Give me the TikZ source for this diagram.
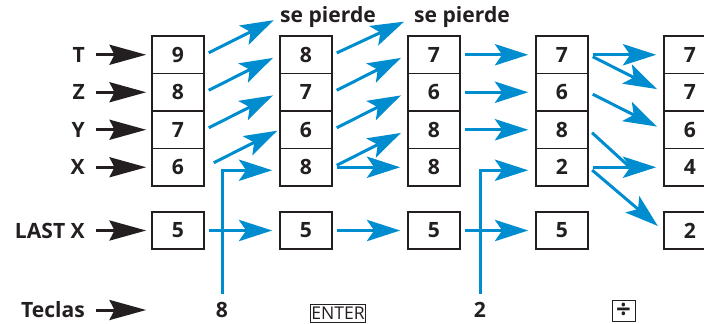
\documentclass[tikz,border=0pt]{standalone}
\usepackage{fontspec}
\setmainfont{Open Sans}
\usetikzlibrary{arrows.meta}
\definecolor{hpblue}{RGB}{0,141,207}
\definecolor{hpblack}{RGB}{35,31,32}
\tikzset{
  regbox/.style={draw=hpblack, line width=1.4pt, minimum width=1.56cm, minimum height=1.125cm,
    inner sep=0pt, text=hpblack, font=\fontsize{18}{20}\selectfont\bfseries},
  rowlabel/.style={anchor=east, inner sep=0pt, text=hpblack, font=\fontsize{18}{20}\selectfont\bfseries},
  keylabel/.style={inner sep=0pt, text=hpblack, font=\fontsize{18}{20}\selectfont\bfseries},
  keybox/.style={draw=hpblack, line width=0.7pt, inner sep=0pt, text=hpblack, font=\fontsize{15}{17}\selectfont},
  bluearrow/.style={hpblue, line width=0.09cm, -{Stealth[length=1cm,width=0.64cm,inset=0.22cm]},
    shorten <=0.13cm, shorten >=0.21cm},
  blueline/.style={hpblue, line width=0.09cm},
  blackarrow/.style={hpblack, line width=0.09cm, -{Stealth[length=1.1cm,width=0.6cm,inset=0.15cm]},
    shorten <=0.33cm, shorten >=0.15cm},
}
\begin{document}
\begin{tikzpicture}[x=0.03cm, y=-0.03cm]
  \clip (0,0) rectangle (704,323);
  % stack registers
  \foreach \col/\xc/\vt/\vz/\vy/\vx/\vl in {1/178/9/8/7/6/5, 2/306/8/7/6/8/5,
      3/434/7/6/8/8/5, 4/562/7/6/8/2/5, 5/690/7/7/6/4/2} {
    \node[regbox] (c\col t) at (\xc,54.75)  {\vt};
    \node[regbox] (c\col z) at (\xc,92.25)  {\vz};
    \node[regbox] (c\col y) at (\xc,129.75) {\vy};
    \node[regbox] (c\col x) at (\xc,167.25) {\vx};
    \node[regbox] (c\col l) at (\xc,230.5)  {\vl};
  }
  % row labels
  \node[rowlabel] (lt) at (85,54.75)  {T};
  \node[rowlabel] (lz) at (85,92.25)  {Z};
  \node[rowlabel] (ly) at (85,129.75) {Y};
  \node[rowlabel] (lx) at (85,167.25) {X};
  \node[rowlabel] (ll) at (85,230.5)  {LAST X};
  \node[rowlabel] (lk) at (85,310)    {Teclas};
  \draw[blackarrow] (lt.east) -- (c1t.west);
  \draw[blackarrow] (lz.east) -- (c1z.west);
  \draw[blackarrow] (ly.east) -- (c1y.west);
  \draw[blackarrow] (lx.east) -- (c1x.west);
  \draw[blackarrow] (ll.east) -- (c1l.west);
  \draw[blackarrow] (lk.east) -- (c1l.west |- lk.east);
  % keys
  \node[keylabel] (k8) at (222,310) {8};
  \node[keybox, minimum width=1.65cm, minimum height=0.54cm] (kenter) at (338,313) {ENTER};
  \node[keybox, minimum width=0.69cm, minimum height=0.64cm,
    font=\fontsize{22}{24}\selectfont\bfseries] (kdiv) at (623.5,311) {÷};
  \node[keylabel] (k2) at (480,310) {2};
  % lost values
  \node[keylabel, anchor=west] (sp1) at (280,17) {se pierde};
  \node[keylabel, anchor=west] (sp2) at (414,17) {se pierde};
  % key 8
  \draw[bluearrow] (c1t.east) -- (sp1.west);
  \draw[bluearrow] (c1z.east) -- (c2t.west);
  \draw[bluearrow] (c1y.east) -- (c2z.west);
  \draw[bluearrow, shorten <=0.3cm, shorten >=0.06cm] (c1x.east) -- (c2y.west);
  \draw[bluearrow, shorten <=0pt] ([yshift=0.25cm]k8.north) |- ([yshift=-0.09cm]c2x.west);
  \draw[bluearrow] (c1l.east) -- (c2l.west);
  % ENTER
  \draw[bluearrow, shorten >=0.33cm] (c2t.east) -- (sp2.west);
  \draw[bluearrow] (c2z.east) -- (c3t.west);
  \draw[bluearrow] (c2y.east) -- (c3z.west);
  \draw[bluearrow] (c2x.east) -- (c3y.west);
  \draw[bluearrow] (c2x.east) -- (c3x.west);
  \draw[bluearrow] (c2l.east) -- (c3l.west);
  % key 2
  \draw[bluearrow] (c3t.east) -- (c4t.west);
  \draw[bluearrow] (c3z.east) -- (c4z.west);
  \draw[bluearrow] (c3y.east) -- (c4y.west);
  \draw[bluearrow, shorten <=0pt] ([yshift=0.25cm]k2.north) |- ([yshift=-0.09cm]c4x.west);
  \draw[bluearrow] (c3l.east) -- (c4l.west);
  % divide
  \draw[bluearrow] (c4t.east) -- (c5t.west);
  \draw[bluearrow] (c4t.east) -- (c5z.west);
  \draw[bluearrow] (c4z.east) -- (c5y.west);
  \draw[blueline, shorten <=0.13cm] (c4y.east) -- ([xshift=-1cm]c5x.west);
  \draw[bluearrow] (c4x.east) -- (c5x.west);
  \draw[bluearrow] (c4x.east) -- (c5l.west);
\end{tikzpicture}
\end{document}
